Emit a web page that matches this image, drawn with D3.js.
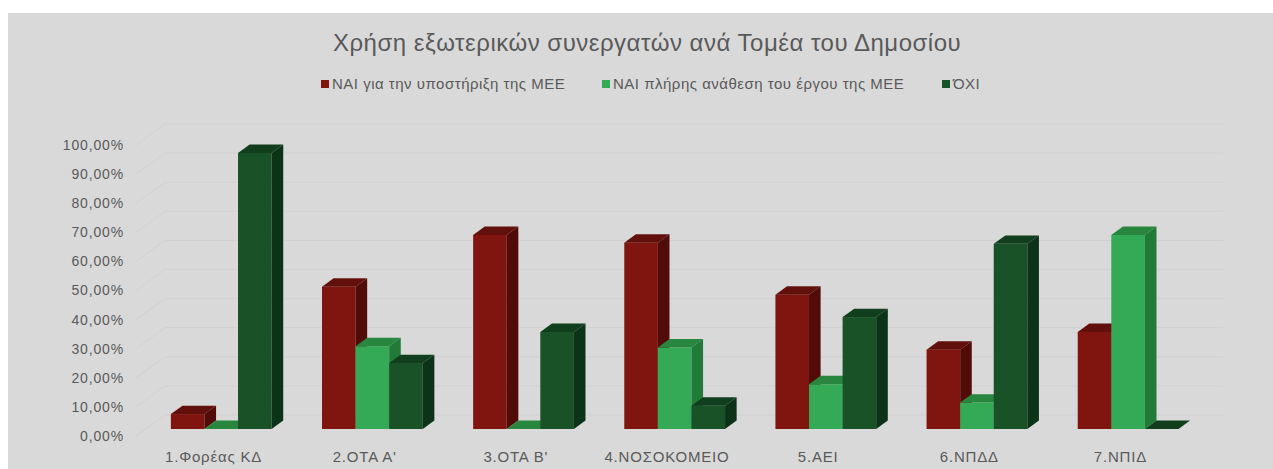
<!doctype html>
<html lang="el">
<head>
    <meta charset="utf-8">
    <title>Χρήση εξωτερικών συνεργατών</title>
    <style>
        body { margin: 0; background: #fff; }
        text { font-family: "Liberation Sans", Arial, sans-serif; fill: #595959; }
    </style>
</head>
<body>
    <div id="chart"></div>

    <script src="https://cdnjs.cloudflare.com/ajax/libs/d3/7.8.5/d3.min.js"></script>
    <script>
        const categories = ["1.Φορέας ΚΔ", "2.ΟΤΑ Α'", "3.ΟΤΑ Β'", "4.ΝΟΣΟΚΟΜΕΙΟ", "5.ΑΕΙ", "6.ΝΠΔΔ", "7.ΝΠΙΔ"];
        const seriesNames = ["ΝΑΙ για την υποστήριξη της ΜΕΕ", "ΝΑΙ πλήρης ανάθεση του έργου της ΜΕΕ", "ΌΧΙ"];
        const supportValues = [0.0513, 0.4889, 0.6667, 0.6400, 0.4615, 0.2727, 0.3333];
        const fullValues = [0.0000, 0.2844, 0.0000, 0.2800, 0.1538, 0.0909, 0.6667];
        const noValues = [0.9487, 0.2267, 0.3333, 0.0800, 0.3846, 0.6364, 0.0000];
        const yTicks = [0, 0.1, 0.2, 0.3, 0.4, 0.5, 0.6, 0.7, 0.8, 0.9, 1.0];

        // front, top, side shades per series
        const shades = [
            { front: "#80150f", top: "#62100b", side: "#510c09" },
            { front: "#34aa56", top: "#28863f", side: "#217a38" },
            { front: "#1a5228", top: "#113f1d", side: "#0c3317" }
        ];

        const width = 1273;
        const height = 469;
        const left = 136, right = 1194;   // front edge of the floor
        const depth = [29, -21];          // full depth of the floor / side wall
        const barFront = 1 / 3;           // bars start at this share of the depth
        const barDepth = 0.4;

        const values = [supportValues, fullValues, noValues];
        const rows = categories.map((c, i) => ({ cat: c, vals: values.map(s => s[i]) }));

        const svg = d3.select("#chart").append("svg")
            .attr("width", width).attr("height", height);

        svg.append("rect").attr("x", 8).attr("y", 13)
            .attr("width", width - 8).attr("height", height - 13)
            .attr("fill", "#d9d9d9");

        const x = d3.scaleBand().domain(categories).range([left, right])
            .paddingInner(1 / 3).paddingOuter(1 / 6);
        const xs = d3.scaleBand().domain(d3.range(3)).range([0, x.bandwidth()]);
        const y = d3.scaleLinear().domain([0, 1]).range([436, 145]);

        const fmt = d3.formatLocale({ decimal: ",", thousands: ".", grouping: [3], currency: ["", "€"] }).format(".2%");

        // gridlines on the side wall and back wall
        svg.append("g").selectAll("path")
            .data(yTicks)
            .join("path")
            .attr("d", d => `M${left},${y(d)} l${depth[0]},${depth[1]} H${right + depth[0]}`)
            .attr("fill", "none")
            .attr("stroke", "#d1d1d1")
            .attr("stroke-width", 1);

        svg.append("g").selectAll("text")
            .data(yTicks)
            .join("text")
            .attr("x", 124)
            .attr("y", d => y(d))
            .attr("dy", "0.35em")
            .attr("text-anchor", "end")
            .style("font-size", "14px")
            .style("letter-spacing", "0.85px")
            .text(d => fmt(d));

        // 3d bars, left to right so the next front face covers the previous side
        const ox = depth[0] * barFront, oy = depth[1] * barFront;
        const dx = depth[0] * barDepth, dy = depth[1] * barDepth;
        const bars = svg.append("g");
        rows.forEach(r => {
            r.vals.forEach((v, s) => {
                const x0 = x(r.cat) + xs(s) + ox;
                const w = xs.bandwidth();
                const yb = y(0) + oy;
                const yt = y(v) + oy;
                const g = bars.append("g");
                g.append("rect")
                    .attr("x", x0).attr("y", yt)
                    .attr("width", w).attr("height", yb - yt)
                    .attr("fill", shades[s].front);
                g.append("path")
                    .attr("d", `M${x0},${yt} l${dx},${dy} h${w} l${-dx},${-dy} Z`)
                    .attr("fill", shades[s].top);
                g.append("path")
                    .attr("d", `M${x0 + w},${yt} l${dx},${dy} V${yb + dy} l${-dx},${-dy} Z`)
                    .attr("fill", shades[s].side);
            });
        });

        svg.append("g").selectAll("text")
            .data(categories)
            .join("text")
            .attr("x", d => x(d) + x.bandwidth() / 2 + 2)
            .attr("y", 457)
            .attr("dy", "0.35em")
            .attr("text-anchor", "middle")
            .style("font-size", "15px")
            .style("letter-spacing", "0.8px")
            .text(d => d);

        svg.append("text")
            .attr("x", 647).attr("y", 43)
            .attr("dy", "0.35em")
            .attr("text-anchor", "middle")
            .style("font-size", "24px")
            .style("letter-spacing", "0.5px")
            .text("Χρήση εξωτερικών συνεργατών ανά Τομέα του Δημοσίου");

        // legend
        const legendX = [321, 602, 942];
        const legend = svg.append("g").selectAll("g")
            .data(seriesNames)
            .join("g")
            .attr("transform", (d, i) => `translate(${legendX[i]},84)`);
        legend.append("rect")
            .attr("x", 0).attr("y", -4)
            .attr("width", 8).attr("height", 8)
            .attr("fill", (d, i) => shades[i].front);
        legend.append("text")
            .attr("x", 11).attr("dy", "0.35em")
            .style("font-size", "15px")
            .style("letter-spacing", "0.5px")
            .text(d => d);
    </script>
</body>
</html>
